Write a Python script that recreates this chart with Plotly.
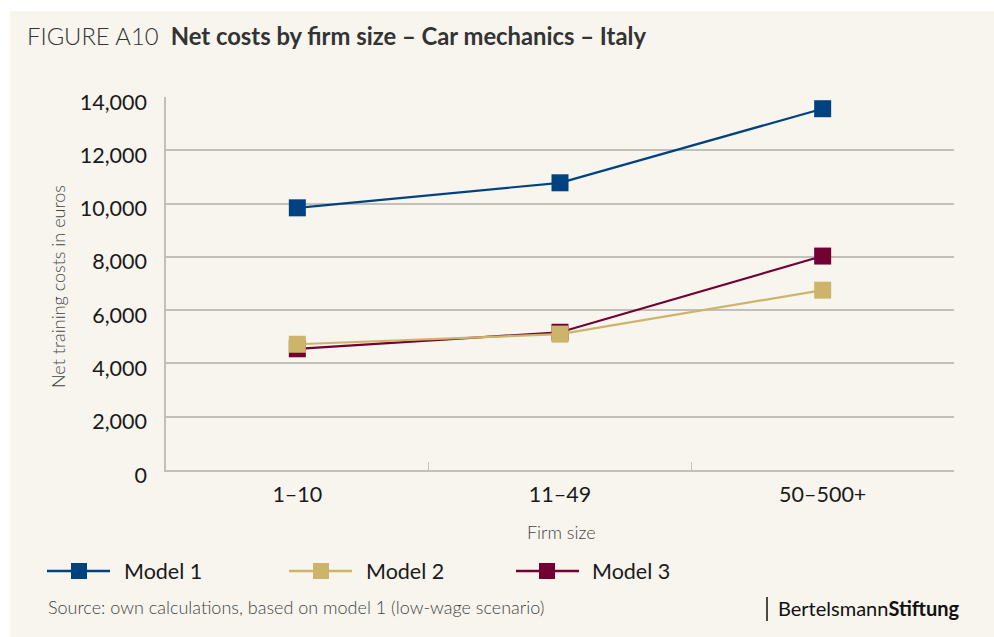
import plotly.graph_objects as go

categories = ["1–10", "11–49", "50–500+"]
model1 = [9840, 10780, 13560]
model2 = [4720, 5100, 6750]
model3 = [4550, 5170, 8030]
series_names = ["Model 1", "Model 2", "Model 3"]
y_ticks = [0, 2000, 4000, 6000, 8000, 10000, 12000, 14000]

C1 = "#00427f"
C2 = "#cdb46b"
C3 = "#730033"
BG = "#f7f5ee"
GRID = "#c2c0bb"
FONT = "Lato"

W, H = 994, 637
ML, MR, MT, MB = 166, 40, 97, 167
PW = W - ML - MR
PH = H - MT - MB


def xp(px):
    return (px - ML) / PW


def yp(py):
    return (H - MB - py) / PH


fig = go.Figure()
for name, vals, col in [(series_names[0], model1, C1), (series_names[2], model3, C3), (series_names[1], model2, C2)]:
    fig.add_trace(go.Scatter(
        x=categories, y=vals, name=name, mode="lines+markers",
        line=dict(color=col, width=2.2),
        marker=dict(symbol="square", size=17, color=col, line=dict(width=0)),
        hoverinfo="skip", showlegend=False, cliponaxis=False,
    ))

shapes = [
    dict(type="rect", xref="paper", yref="paper", x0=xp(10), x1=xp(W + 2), y0=yp(11), y1=yp(H + 2),
         fillcolor=BG, line=dict(width=0), layer="below"),
    dict(type="line", xref="paper", yref="paper", x0=xp(767), x1=xp(767), y0=yp(597), y1=yp(621),
         line=dict(color="#111111", width=1.5)),
]
annotations = []

legend_items = [
    (series_names[0], C1, 47, 110, 79, 122),
    (series_names[1], C2, 289, 352, 321, 364),
    (series_names[2], C3, 516, 579, 547, 590),
]
LY = 571
for name, col, lx0, lx1, mx, tx in legend_items:
    shapes.append(dict(type="line", xref="paper", yref="paper", x0=xp(lx0), x1=xp(lx1), y0=yp(LY), y1=yp(LY),
                       line=dict(color=col, width=2.5)))
    shapes.append(dict(type="rect", xref="paper", yref="paper", x0=xp(mx - 8), x1=xp(mx + 8),
                       y0=yp(LY - 8), y1=yp(LY + 8), fillcolor=col, line=dict(width=0)))
    annotations.append(dict(xref="paper", yref="paper", x=xp(tx), y=yp(LY), text=name, showarrow=False,
                            xanchor="left", yanchor="middle", font=dict(family=FONT, size=21.5, color="#1a1a1a")))

annotations += [
    dict(xref="paper", yref="paper", x=xp(25), y=yp(36), showarrow=False, xanchor="left", yanchor="middle",
         text="<span style='font-weight:300'>FIGURE A10</span>  <b>Net costs by firm size – Car mechanics – Italy</b>",
         font=dict(family=FONT, size=23.8, color="#333333")),
    dict(xref="paper", yref="paper", x=xp(58), y=yp(287), showarrow=False, textangle=-90,
         xanchor="center", yanchor="middle", text="Net training costs in euros",
         font=dict(family=FONT, size=18, color="#444444", weight=300)),
    dict(xref="paper", yref="paper", x=xp(561), y=yp(532), showarrow=False,
         xanchor="center", yanchor="middle", text="Firm size",
         font=dict(family=FONT, size=18, color="#444444", weight=300)),
    dict(xref="paper", yref="paper", x=xp(46), y=yp(607), showarrow=False,
         xanchor="left", yanchor="middle", text="Source: own calculations, based on model 1 (low-wage scenario)",
         font=dict(family=FONT, size=18, color="#444444", weight=300)),
    dict(xref="paper", yref="paper", x=xp(776), y=yp(608), showarrow=False,
         xanchor="left", yanchor="middle", text="Bertelsmann<b>Stiftung</b>",
         font=dict(family=FONT, size=20, color="#111111")),
]

fig.update_layout(
    width=W, height=H,
    margin=dict(l=ML, r=MR, t=MT, b=MB, pad=0),
    paper_bgcolor="#ffffff",
    plot_bgcolor=BG,
    font=dict(family=FONT, color="#1a1a1a"),
    shapes=shapes,
    annotations=annotations,
    showlegend=False,
    hovermode=False,
)
fig.update_xaxes(
    type="category", range=[-0.5, 2.5], showgrid=False,
    showline=True, linecolor=GRID, linewidth=1.5,
    ticks="inside", tickson="boundaries", ticklen=8, tickcolor=GRID, tickwidth=1.2,
    tickfont=dict(family=FONT, size=21.5, color="#1a1a1a"), ticklabelstandoff=4,
)
fig.update_yaxes(
    range=[0, 14000], tickvals=y_ticks, tickformat=",d",
    showgrid=True, gridcolor=GRID, gridwidth=1.5, zeroline=False,
    showline=True, linecolor=GRID, linewidth=1.5, ticks="",
    tickfont=dict(family=FONT, size=21.5, color="#1a1a1a"), ticklabelstandoff=13,
    ticklabelshift=5,
)

fig.write_html("out.html", config={"displayModeBar": False},
               post_script="document.body.style.margin='0';")
